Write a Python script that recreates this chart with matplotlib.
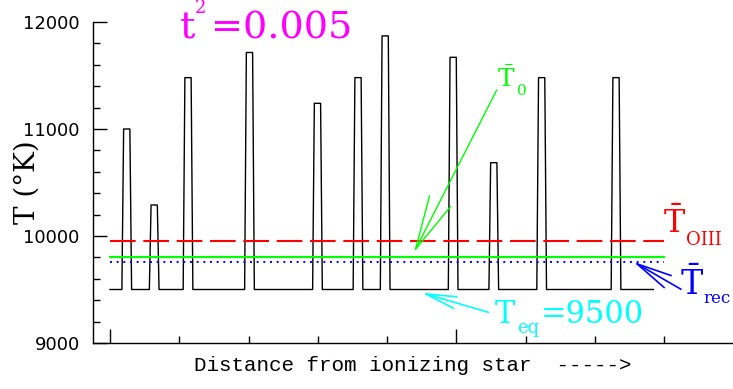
import matplotlib
matplotlib.use('Agg')
import matplotlib.pyplot as plt
from matplotlib.patches import ArrowStyle
from matplotlib.ticker import MultipleLocator

plt.rcParams['mathtext.fontset'] = 'dejavuserif'
plt.rcParams['lines.scale_dashes'] = False

# perfil de temperatura: picos (posicion relativa, T del pico)
pico_x = [0.0242, 0.0638, 0.1126, 0.2013, 0.2994, 0.3579, 0.3971, 0.4952, 0.5538, 0.6229, 0.7302]
pico_T = [11000, 10290, 11480, 11715, 11240, 11480, 11870, 11670, 10685, 11480, 11480]
T_eq = 9500
x_ini, x_fin = 0.0, 0.784

# temperaturas medias
T_OIII = 9950
T_0 = 9800
T_rec = 9760
x_medias = [0.0, 0.8]

# forma de cada pico (semianchos en la base y arriba)
base_hw, top_hw = 0.0070, 0.0045

xs = [x_ini]
ts = [T_eq]
for c, t in zip(pico_x, pico_T):
    xs += [c - base_hw, c - top_hw, c + top_hw, c + base_hw]
    ts += [T_eq, t, t, T_eq]
xs.append(x_fin)
ts.append(T_eq)

fig = plt.figure(figsize=(7.33, 3.89), dpi=100)
ax = fig.add_axes([93/733, 46/389, 640/733, 321/389])

ax.plot(xs, ts, color='black', lw=1.0)
ax.plot(x_medias, [T_OIII]*2, color='#ff0000', lw=1.5, dashes=(18.5, 5.5))
ax.plot(x_medias, [T_0]*2, color='#00ff00', lw=1.5)
ax.plot(x_medias, [T_rec]*2, color='#0000ff', lw=1.4, dashes=(1.4, 3.4))

ax.set_xlim(-0.0245, 0.899)
ax.set_ylim(9000, 12000)
ax.xaxis.set_major_locator(MultipleLocator(0.5))
ax.xaxis.set_minor_locator(MultipleLocator(0.1))
ax.yaxis.set_major_locator(MultipleLocator(1000))
ax.yaxis.set_minor_locator(MultipleLocator(200))
ax.tick_params(which='both', direction='in', width=1.0, colors='black')
ax.tick_params(which='major', length=10)
ax.tick_params(which='minor', length=5)
ax.tick_params(axis='x', labelbottom=False)
ax.tick_params(axis='y', pad=9.5, labelsize=13)
for lbl in ax.get_yticklabels():
    lbl.set_family('DejaVu Sans')
ax.spines['top'].set_visible(False)
ax.spines['right'].set_visible(False)
for s in ['left', 'bottom']:
    ax.spines[s].set_linewidth(1.0)

ax.set_xlabel('Distance from ionizing star  ----->', family='Liberation Mono', fontsize=15, labelpad=6)
ax.set_ylabel('T (°K)', family='DejaVu Serif', fontsize=20)
ax.yaxis.set_label_coords(-0.082, 0.5)

serif = 'DejaVu Serif'
# t^2
ax.text(0.101, 11850, 't', color='#ff00ff', fontsize=27.5, family=serif, va='baseline')
ax.text(0.1225, 12084, '2', color='#ff00ff', fontsize=13, family=serif, va='baseline')
ax.text(0.1460, 11850, '=0.005', color='#ff00ff', fontsize=27.5, family=serif, va='baseline')

# T0
ax.text(0.5584, 11395, r'$\bar{\mathrm{T}}$', color='#00ff00', fontsize=18, va='baseline')
ax.text(0.5870, 11318, '0', color='#00ff00', fontsize=11, family=serif, va='baseline')
ax.annotate('', xy=(0.4387, 9848), xytext=(0.5580, 11364),
            arrowprops=dict(arrowstyle=ArrowStyle('->', head_length=3.9, head_width=0.85),
                            color='#00ff00', lw=1.0, shrinkA=0, shrinkB=0, mutation_scale=10))

# T OIII
ax.text(0.798, 10025, r'$\bar{\mathrm{T}}$', color='#ff0000', fontsize=23, va='baseline')
ax.text(0.8310, 9916, 'OIII', color='#ff0000', fontsize=13, family=serif, va='baseline')

# T rec
ax.text(0.8225, 9449, r'$\bar{\mathrm{T}}$', color='#0000ff', fontsize=24, va='baseline')
ax.text(0.8557, 9374, 'rec', color='#0000ff', fontsize=12, family=serif, va='baseline')
ax.annotate('', xy=(0.7551, T_rec), xytext=(0.8240, 9502),
            arrowprops=dict(arrowstyle=ArrowStyle('->', head_length=2.55, head_width=0.5),
                            color='#0000ff', lw=1.2, shrinkA=0, shrinkB=0, mutation_scale=10))

# T eq
ax.text(0.5556, 9184, 'T', color='#00ffff', fontsize=22, family=serif, va='baseline')
ax.text(0.5870, 9093, 'eq', color='#00ffff', fontsize=13, family=serif, va='baseline')
ax.text(0.622, 9184, '=9500', color='#00ffff', fontsize=22, family=serif, va='baseline')
ax.annotate('', xy=(0.4498, 9470), xytext=(0.5459, 9287),
            arrowprops=dict(arrowstyle=ArrowStyle('->', head_length=2.2, head_width=0.43),
                            color='#00ffff', lw=1.2, shrinkA=0, shrinkB=0, mutation_scale=10))

fig.savefig('out.png', dpi=100)
